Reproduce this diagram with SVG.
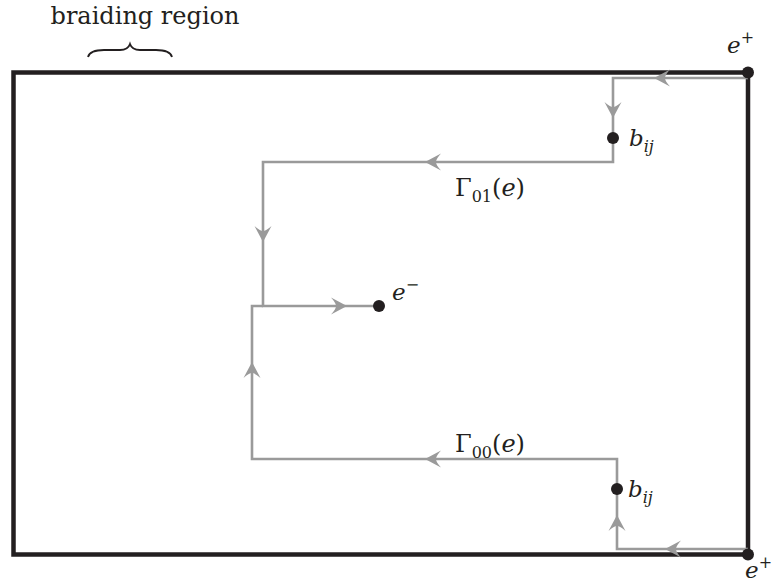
<svg xmlns="http://www.w3.org/2000/svg" xmlns:xlink="http://www.w3.org/1999/xlink" width="775" height="584" viewBox="0 0 775 584">
<style>
.frame{fill:none;stroke:#231f20;stroke-width:4.5}
.path{fill:none;stroke:#9a9a9a;stroke-width:2.6;stroke-linejoin:miter}
.arr{fill:#9a9a9a}
.dot{fill:#231f20}
text{font-family:'DejaVu Serif',serif;fill:#231f20}
.t{font-size:24px}
.m{font-style:italic;font-size:23px}
.s{font-size:16px}
</style>
<defs>
<path id="ah" d="M0,0 L-16,-8.5 Q-11,-3 -11,0 Q-11,3 -16,8.5 Z"/>
</defs>
<g id="frame">
<rect class="frame" x="13.5" y="72.5" width="734.5" height="482"/>
</g>
<g id="brace">
<path d="M88,57 Q90,50 104,50 L120,50 Q128,50 130,44 Q132,50 140,50 L156,50 Q170,50 172,57" fill="none" stroke="#231f20" stroke-width="1.8"/>
<text class="t" x="145" y="24" text-anchor="middle">braiding region</text>
</g>
<g id="connectors">
<path class="path" d="M748,78 L613,78 L613,162 L263,162 L263,306 L379,306"/>
<path class="path" d="M748,549 L617,549 L617,459 L252,459 L252,306 L263,306"/>
<use xlink:href="#ah" class="arr" transform="translate(654,78) rotate(180)"/>
<use xlink:href="#ah" class="arr" transform="translate(613,118) rotate(90)"/>
<use xlink:href="#ah" class="arr" transform="translate(425,162) rotate(180)"/>
<use xlink:href="#ah" class="arr" transform="translate(263,242) rotate(90)"/>
<use xlink:href="#ah" class="arr" transform="translate(347,306)"/>
<use xlink:href="#ah" class="arr" transform="translate(252,362) rotate(-90)"/>
<use xlink:href="#ah" class="arr" transform="translate(425,459) rotate(180)"/>
<use xlink:href="#ah" class="arr" transform="translate(617,515) rotate(-90)"/>
<use xlink:href="#ah" class="arr" transform="translate(665,549) rotate(180)"/>
</g>
<g id="eplus-top">
<circle class="dot" cx="748" cy="72.5" r="6"/>
<text class="m" x="727" y="53">e<tspan class="s" font-style="normal" dy="-10">+</tspan></text>
</g>
<g id="bij-top">
<circle class="dot" cx="613" cy="138" r="6"/>
<text class="m" x="629" y="146">b<tspan class="s" dy="6">ij</tspan></text>
</g>
<g id="eminus">
<circle class="dot" cx="379" cy="306" r="6"/>
<text class="m" x="392" y="300">e<tspan class="s" font-style="normal" dy="-10">−</tspan></text>
</g>
<g id="bij-bottom">
<circle class="dot" cx="617" cy="489" r="6"/>
<text class="m" x="628" y="497">b<tspan class="s" dy="6">ij</tspan></text>
</g>
<g id="eplus-bottom">
<circle class="dot" cx="748" cy="554.5" r="6"/>
<text class="m" x="745" y="578">e<tspan class="s" font-style="normal" dy="-10">+</tspan></text>
</g>
<g id="labels">
<text class="t" x="455" y="196">Γ<tspan class="s" dy="6">01</tspan><tspan dy="-6">(</tspan><tspan font-style="italic">e</tspan>)</text>
<text class="t" x="455" y="452">Γ<tspan class="s" dy="6">00</tspan><tspan dy="-6">(</tspan><tspan font-style="italic">e</tspan>)</text>
</g>
</svg>
